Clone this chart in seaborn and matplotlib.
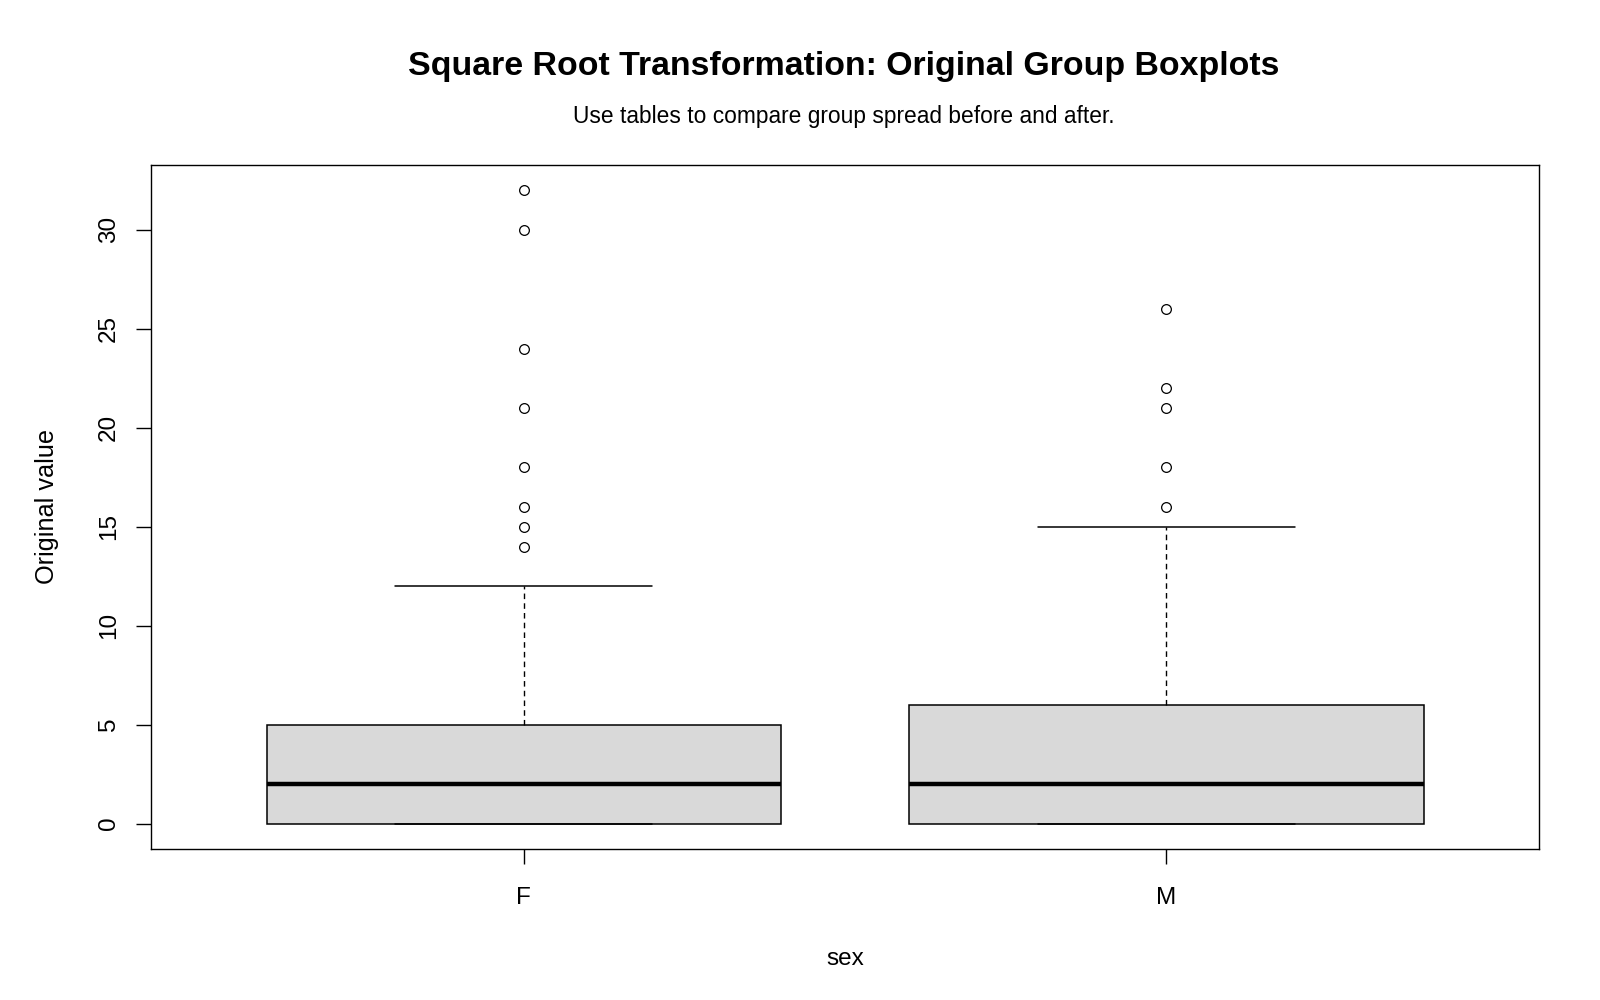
import matplotlib
matplotlib.use("Agg")
import matplotlib.pyplot as plt
import seaborn as sns
import pandas as pd

# Data
female_values = [0, 0, 0, 0, 0, 0, 0, 0, 0, 0, 0, 0, 1, 1, 1, 1, 1, 2, 2, 2, 2, 2,
                 3, 3, 3, 3, 4, 4, 4, 5, 5, 8, 12, 14, 15, 16, 18, 21, 24, 30, 32]
male_values = [0, 0, 0, 0, 0, 0, 0, 0, 0, 0, 0, 0, 1, 1, 1, 1, 1, 2, 2, 2, 2, 2,
               3, 3, 3, 4, 4, 4, 5, 5, 6, 7, 9, 10, 12, 15, 16, 18, 21, 22, 26]
groups = ["F", "M"]
y_ticks = [0, 5, 10, 15, 20, 25, 30]

df = pd.DataFrame({
    "sex": ["F"] * len(female_values) + ["M"] * len(male_values),
    "value": female_values + male_values,
})

sns.set_theme(style="white")
plt.rcParams["font.family"] = ["Liberation Sans", "DejaVu Sans"]

fig = plt.figure(figsize=(16, 10), dpi=100)
ax = fig.add_axes([0.0944, 0.151, 0.962 - 0.0944, 0.835 - 0.151])

sns.boxplot(
    data=df, x="sex", y="value", order=groups, ax=ax,
    color="#D9D9D9", saturation=1, width=0.8, whis=1.5,
    linecolor="black", linewidth=1.1,
    boxprops=dict(edgecolor="black", linewidth=1.1),
    whiskerprops=dict(color="black", linestyle=(0, (4, 3)), linewidth=1.0),
    capprops=dict(color="black", linewidth=1.1),
    medianprops=dict(color="black", linewidth=3.2),
    flierprops=dict(marker="o", markerfacecolor="none", markeredgecolor="black",
                    markersize=7, markeredgewidth=0.9, linestyle="none"),
)

ax.set_xlim(-0.58, 1.58)
ax.set_ylim(-1.28, 33.28)
ax.set_yticks(y_ticks)
ax.set_yticklabels([str(t) for t in y_ticks], rotation=90, va="center")
ax.set_xticks([0, 1])
ax.set_xticklabels(groups)

for s in ax.spines.values():
    s.set_visible(True)
    s.set_color("black")
    s.set_linewidth(1.0)

ax.tick_params(axis="both", which="major", direction="out", length=10.5, width=1.0,
               color="black", labelsize=17.5, labelcolor="black")
ax.tick_params(axis="x", pad=17, bottom=True)
ax.tick_params(axis="y", pad=12, left=True)
ax.grid(False)

ax.set_xlabel("sex", fontsize=17.5, color="black", labelpad=28)
ax.set_ylabel("Original value", fontsize=18.2, color="black", labelpad=28)

fig.text(0.5275, 0.933, "Square Root Transformation: Original Group Boxplots",
         ha="center", va="center", fontsize=24.4, fontweight="bold", color="black")
fig.text(0.5272, 0.883, "Use tables to compare group spread before and after.",
         ha="center", va="center", fontsize=16.4, color="black")

fig.savefig("out.png", dpi=100, facecolor="white")
